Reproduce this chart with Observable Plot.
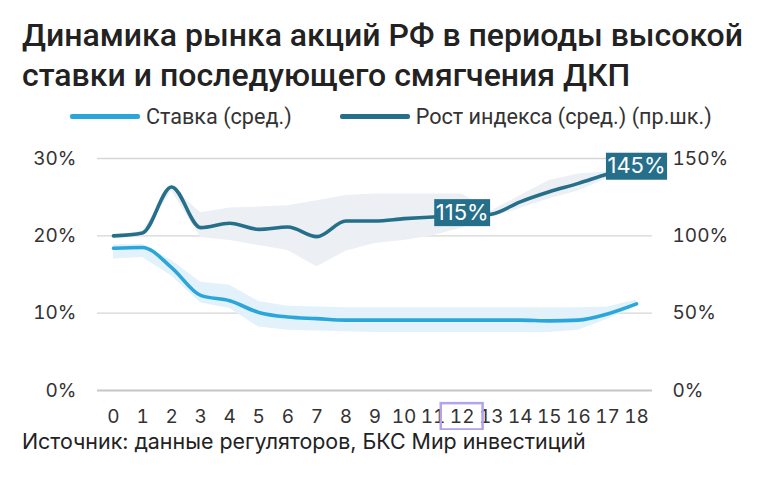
<!DOCTYPE html>
<html><head><meta charset="utf-8">
<script src="https://cdn.jsdelivr.net/npm/d3@7"></script>
<script src="https://cdn.jsdelivr.net/npm/@observablehq/plot@0.6"></script>
<style>
body{margin:0;background:#fff;width:758px;height:477px;overflow:hidden;position:relative;font-family:Inter,sans-serif;}
#title{position:absolute;left:22px;top:15px;font-family:Roboto,sans-serif;font-size:32px;font-weight:500;line-height:40px;color:#222;white-space:nowrap;}
#legend{position:absolute;top:104px;left:70px;display:flex;align-items:center;font-family:Roboto,sans-serif;font-size:21.6px;color:#333;white-space:nowrap;}
#legend .item{display:flex;align-items:center;margin-right:48px;}
#legend .sw{display:inline-block;width:70px;height:4.5px;border-radius:2px;margin-right:6px;}
#chart{position:absolute;top:140px;left:0;}
#caption{position:absolute;left:22px;top:428px;font-size:21.4px;color:#222;white-space:nowrap;}
</style></head>
<body>
<div id="title">Динамика рынка акций РФ в периоды высокой<br>ставки и последующего смягчения ДКП</div>
<div id="legend"></div>
<div id="chart"></div>
<div id="caption">Источник: данные регуляторов, БКС Мир инвестиций</div>
<script>
// Periods (x axis)
const periods = [0,1,2,3,4,5,6,7,8,9,10,11,12,13,14,15,16,17,18];
// Key rate, average (%), left axis
const rate   = [18.4,18.5,15.9,12.3,11.6,10.1,9.5,9.3,9.1,9.1,9.1,9.1,9.1,9.1,9.1,9.0,9.1,9.9,11.2];
const rateHi = [18.8,18.9,16.8,14.0,13.6,11.5,10.9,10.8,10.7,10.7,10.7,10.7,10.7,10.7,10.7,10.7,10.7,10.8,11.7];
const rateLo = [17.0,17.2,14.8,11.3,10.6,8.2,7.8,7.7,7.6,7.5,7.5,7.5,7.5,7.5,7.5,7.5,7.8,9.2,10.9];
// Index growth, average (%), right axis
const indexVal = [100,101.9,131.6,105.3,108.1,104.2,105.7,99.5,109.6,109.6,111.1,112.2,112.8,114,122,128.5,133.9,140,145];
const indexHi  = [100.5,103,132,115,118,118.6,119.5,122.7,126,127,127,127,127,116,126,135.7,140,141.5,145.5];
const indexLo  = [99.5,99.5,129,99,97,93.7,90.5,80,90,95,97,100,105,112,117.6,124,129,137,144.5];
// Annotations
const labelPeriods = [12,18];
const labelValues  = [115,145];
const highlightPeriods = [12];
// Axis ticks
const leftTicks = [0,10,20,30];
const rightFactor = 5; // right axis = left * 5
// Legend
const seriesNames  = ["Ставка (сред.)","Рост индекса (сред.) (пр.шк.)"];
const seriesColors = ["#2aa6db","#256f8a"];

const legend = document.getElementById("legend");
seriesNames.forEach((n,i)=>{
  const it = document.createElement("span"); it.className="item";
  const sw = document.createElement("span"); sw.className="sw"; sw.style.background=seriesColors[i];
  it.appendChild(sw); it.appendChild(document.createTextNode(n)); legend.appendChild(it);
});

const data = periods.map((x,i)=>({x, rate:rate[i], rLo:rateLo[i], rHi:rateHi[i],
  idx:indexVal[i]/rightFactor, iLo:indexLo[i]/rightFactor, iHi:indexHi[i]/rightFactor}));
const labels = labelPeriods.map((x,i)=>({x, v:labelValues[i]}));

const labelFont = "22px Inter";
const boxed = Plot.text(labels, {x:"x", y:d=>d.v/rightFactor, text:d=>d.v+"%", fill:"white", fontSize:22,
  render:(index, scales, values, dims, ctx, next)=>{
    const g = next(index, scales, values, dims, ctx);
    const c = document.createElement("canvas").getContext("2d"); c.font = labelFont;
    for (const i of index) {
      const t = labels[i].v+"%";
      const w = c.measureText(t).width + 3, h = 27;
      const r = document.createElementNS("http://www.w3.org/2000/svg","rect");
      r.setAttribute("x", values.x[i]-w/2); r.setAttribute("y", values.y[i]-h/2);
      r.setAttribute("width", w); r.setAttribute("height", h);
      r.setAttribute("fill", seriesColors[1]);
      g.insertBefore(r, g.firstChild);
    }
    return g;
  }});

const chart = Plot.plot({
  width:758, height:290, marginTop:18, marginBottom:40, marginLeft:97, marginRight:106,
  x:{domain:[-0.55,18.55]}, y:{domain:[0,30]},
  style:{fontFamily:"Inter, sans-serif", fontSize:"19px", color:"#333", background:"transparent"},
  marks:[
    Plot.ruleY(leftTicks.filter(d=>d>0), {stroke:"#d6d6d6", strokeWidth:1.4}),
    Plot.ruleY([0], {stroke:"#c6c6c6", strokeWidth:2.2}),
    Plot.areaY(data, {x:"x", y1:"iLo", y2:"iHi", fill:"#ecf0f5"}),
    Plot.areaY(data, {x:"x", y1:"rLo", y2:"rHi", fill:"#e3f2fa"}),
    Plot.lineY(data, {x:"x", y:"rate", stroke:seriesColors[0], strokeWidth:3.6, curve:"monotone-x"}),
    Plot.lineY(data, {x:"x", y:"idx", stroke:seriesColors[1], strokeWidth:3.6, curve:"monotone-x"}),
    Plot.axisY(leftTicks, {anchor:"left", tickSize:0, tickPadding:21, tickFormat:d=>d+"%", label:null}),
    Plot.axisY(leftTicks, {anchor:"right", tickSize:0, tickPadding:20, tickFormat:d=>d*rightFactor+"%", label:null}),
    Plot.axisX(periods, {tickSize:0, tickPadding:19, tickFormat:d=>String(d), label:null}),
    Plot.rect(highlightPeriods, {x1:d=>d-0.72, x2:d=>d+0.72, y1:-1.7, y2:-5.1, stroke:"#b1a4ee", strokeWidth:2.5, fill:"none"}),
    boxed
  ]
});
document.getElementById("chart").appendChild(chart);
</script>
</body></html>
